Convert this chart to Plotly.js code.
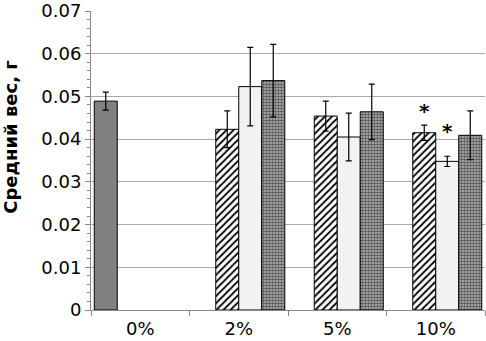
<!DOCTYPE html>
<html>
<head>
<meta charset="utf-8">
<script src="https://cdn.plot.ly/plotly-3.0.1.min.js"></script>
<style>
  html, body { margin: 0; padding: 0; background: #fff; }
  #plot { width: 486px; height: 341px; }
</style>
</head>
<body>
<div id="plot"></div>
<script>
// categories and series
let categories = ["0%", "2%", "5%", "10%"];

let controlVals = [0.0489, null, null, null];
let controlErr = [0.0021, null, null, null];

let hatchVals = [null, 0.0423, 0.0454, 0.0415];
let hatchErr = [null, 0.0043, 0.0035, 0.0018];

let lightVals = [null, 0.0523, 0.0405, 0.0348];
let lightErr = [null, 0.0092, 0.0056, 0.0012];

let dotVals = [null, 0.0537, 0.0464, 0.0409];
let dotErr = [null, 0.0085, 0.0065, 0.0057];

let yTickVals = [0, 0.01, 0.02, 0.03, 0.04, 0.05, 0.06, 0.07];
let yTickText = ["0", "0.01", "0.02", "0.03", "0.04", "0.05", "0.06", "0.07"];

// significance marks: category, height
let starCats = ["10%", "10%"];
let starY = [0.0467, 0.0418];
let starShift = [-1, 0]; // which bar slot in the group (relative to centre)

let errStyle = { thickness: 1.2, width: 3, color: "#000" };
let outline = { color: "#000", width: 1 };

let traces = [
    {
        x: categories, y: controlVals, type: "bar", name: "control",
        marker: { color: "#808080", line: outline },
        error_y: Object.assign({ type: "data", array: controlErr, visible: true }, errStyle)
    },
    {
        x: categories, y: hatchVals, type: "bar", name: "A",
        marker: {
            color: "#fff", line: outline,
            pattern: { shape: "/", fgcolor: "#000", bgcolor: "#fff", size: 5, solidity: 0.35 }
        },
        error_y: Object.assign({ type: "data", array: hatchErr, visible: true }, errStyle)
    },
    {
        x: categories, y: lightVals, type: "bar", name: "B",
        marker: { color: "#f2f2f2", line: outline },
        error_y: Object.assign({ type: "data", array: lightErr, visible: true }, errStyle)
    },
    {
        x: categories, y: dotVals, type: "bar", name: "C",
        marker: {
            color: "#999", line: outline,
            pattern: { shape: ".", fgcolor: "#555", bgcolor: "#bdbdbd", size: 3, solidity: 0.6 }
        },
        error_y: Object.assign({ type: "data", array: dotErr, visible: true }, errStyle)
    }
];

// each category is 1 unit wide with 4 slots; slot centre offset from category centre
let slot = (1 - 0.066) / 4;
let annotations = starCats.map((c, i) => ({
    x: categories.indexOf(c) + (starShift[i] + 0.5) * slot,
    y: starY[i],
    xref: "x", yref: "y",
    text: "<b>*</b>", showarrow: false,
    font: { family: "DejaVu Sans, Verdana, sans-serif", size: 20, color: "#000000" },
    yanchor: "middle"
}));

// y axis title placed as rotated text
annotations.push({
    xref: "paper", yref: "paper", x: -0.205, y: 0.58,
    text: "<b>Средний вес, г</b>", textangle: -90, showarrow: false,
    xanchor: "center", yanchor: "middle",
    font: { family: "DejaVu Sans, Verdana, sans-serif", size: 18, color: "#000" }
});

let layout = {
    width: 486, height: 341,
    margin: { l: 91, r: 1, t: 11, b: 31 },
    paper_bgcolor: "#fff", plot_bgcolor: "#fff",
    barmode: "group", bargap: 0.066, bargroupgap: 0,
    showlegend: false,
    font: { family: "DejaVu Sans, Verdana, sans-serif", size: 18, color: "#000" },
    xaxis: {
        type: "category",
        showline: true, linecolor: "#888", linewidth: 1,
        ticks: "outside", tickson: "boundaries", ticklen: 5, tickcolor: "#888",
        showgrid: false, zeroline: false,
        ticklabelstandoff: 2,
        tickfont: { size: 18 }
    },
    yaxis: {
        range: [0, 0.07],
        tickmode: "array", tickvals: yTickVals, ticktext: yTickText,
        ticklabeloverflow: "allow",
        showline: true, linecolor: "#888", linewidth: 1,
        ticks: "outside", ticklen: 5, tickcolor: "#888",
        showgrid: true, gridcolor: "#a8a8a8", gridwidth: 1,
        zeroline: false,
        minor: { dtick: 0.002, tick0: 0, ticks: "outside", ticklen: 3, tickcolor: "#888", showgrid: false },
        tickfont: { size: 18 }
    },
    annotations: annotations
};

Plotly.newPlot("plot", traces, layout, { displayModeBar: false, staticPlot: true });
</script>
</body>
</html>
